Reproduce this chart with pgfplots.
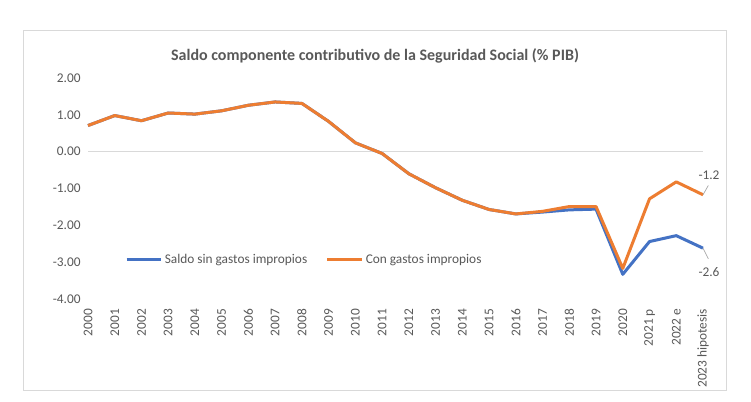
\documentclass[border=0pt]{standalone}
\usepackage{pgfplots}
\pgfplotsset{compat=1.18}
\usepackage{fontspec}
\setmainfont{Carlito}
\definecolor{sblue}{HTML}{4472C4}
\definecolor{sorange}{HTML}{ED7D31}
\definecolor{txt}{HTML}{595959}
\definecolor{frame}{HTML}{D9D9D9}
\begin{document}
\begin{tikzpicture}
\useasboundingbox (0pt,0pt) rectangle (563.25pt,300.75pt);
\fill[white] (0pt,0pt) rectangle (563.25pt,300.75pt);
\draw[frame, line width=0.75pt] (17.25pt,277.5pt) rectangle (544.5pt,8.25pt);
\node[txt, font=\bfseries\fontsize{12}{14}\selectfont] at (281.25pt,258.5pt) {Saldo componente contributivo de la Seguridad Social (\% PIB)};
\begin{axis}[
  at={(66pt,76.5pt)}, anchor=south west,
  scale only axis, width=461.25pt, height=165.75pt,
  xmin=0, xmax=23, ymin=-4, ymax=2,
  axis line style={draw=none}, tick style={draw=none},
  ytick={-4,-3,...,2},
  yticklabel={\pgfmathprintnumber[fixed,fixed zerofill,precision=2]{\tick}},
  /pgf/number format/assume math mode=true,
  ticklabel style={font=\fontsize{10}{11}\selectfont, text=txt},
  yticklabel style={xshift=-2pt},
  xtick={0,...,23},
  xticklabels={2000,2001,2002,2003,2004,2005,2006,2007,2008,2009,2010,2011,2012,2013,2014,2015,2016,2017,2018,2019,2020,2021 p,2022 e,2023 hipotesis},
  xticklabel style={rotate=90, anchor=east, xshift=-4pt},
  clip=false,
  legend style={at={(axis cs:8.1,-2.93)}, anchor=center, draw=none, fill=none,
     legend columns=2, font=\fontsize{10}{11}\selectfont, text=txt,
     /tikz/every even column/.append style={column sep=12pt}},
  legend cell align=left,
  legend image code/.code={\draw[#1, line width=2.25pt] (0,0) -- (0.9cm,0);},
]
\draw[frame, line width=0.75pt] (axis cs:0,0) -- (axis cs:23,0);
\addplot[sblue, line width=2.25pt, line join=round] coordinates {
(0,0.71) (1,0.98) (2,0.84) (3,1.05) (4,1.02) (5,1.11) (6,1.26) (7,1.35) (8,1.31) (9,0.82) (10,0.24) (11,-0.05) (12,-0.60) (13,-0.98) (14,-1.32) (15,-1.57) (16,-1.69) (17,-1.64) (18,-1.58) (19,-1.56) (20,-3.33) (21,-2.44) (22,-2.28) (23,-2.62)};
\addlegendentry{Saldo sin gastos impropios}
\addplot[sorange, line width=2.25pt, line join=round] coordinates {
(0,0.71) (1,0.98) (2,0.84) (3,1.05) (4,1.02) (5,1.11) (6,1.26) (7,1.35) (8,1.31) (9,0.82) (10,0.24) (11,-0.05) (12,-0.60) (13,-0.98) (14,-1.32) (15,-1.57) (16,-1.69) (17,-1.62) (18,-1.49) (19,-1.49) (20,-3.17) (21,-1.28) (22,-0.82) (23,-1.17)};
\addlegendentry{Con gastos impropios}
\draw[gray!70, line width=0.5pt] (axis cs:23,-1.17) -- ++(4pt,7pt);
\node[txt, font=\fontsize{10}{11}\selectfont] at ([xshift=4.5pt,yshift=15pt]axis cs:23,-1.17) {-1.2};
\draw[gray!70, line width=0.5pt] (axis cs:23,-2.62) -- ++(4pt,-8pt);
\node[txt, font=\fontsize{10}{11}\selectfont] at ([xshift=4.5pt,yshift=-18pt]axis cs:23,-2.62) {-2.6};
\end{axis}
\end{tikzpicture}
\end{document}
